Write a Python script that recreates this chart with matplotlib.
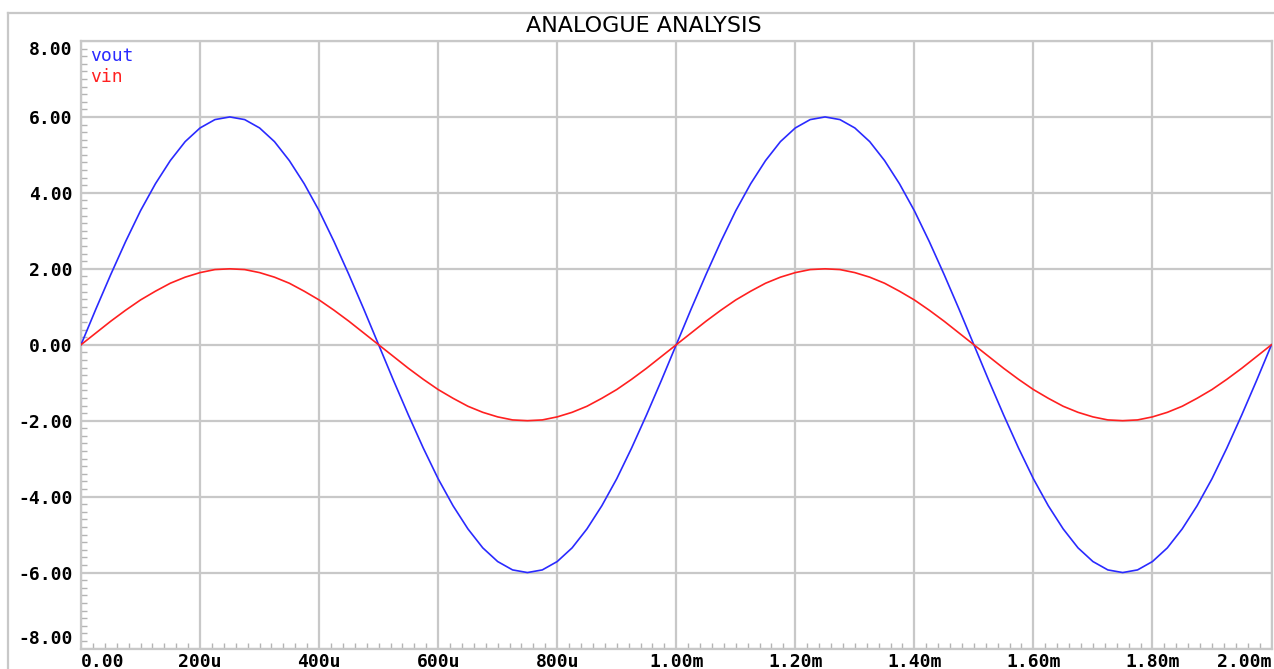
import matplotlib.pyplot as plt
from matplotlib.lines import Line2D
from matplotlib.ticker import AutoMinorLocator

# transient samples, 25u step
t_us = [0, 25, 50, 75, 100, 125, 150, 175, 200, 225,
        250, 275, 300, 325, 350, 375, 400, 425, 450, 475,
        500, 525, 550, 575, 600, 625, 650, 675, 700, 725,
        750, 775, 800, 825, 850, 875, 900, 925, 950, 975,
        1000, 1025, 1050, 1075, 1100, 1125, 1150, 1175, 1200, 1225,
        1250, 1275, 1300, 1325, 1350, 1375, 1400, 1425, 1450, 1475,
        1500, 1525, 1550, 1575, 1600, 1625, 1650, 1675, 1700, 1725,
        1750, 1775, 1800, 1825, 1850, 1875, 1900, 1925, 1950, 1975, 2000]

vout = [0.00, 0.94, 1.85, 2.72, 3.53, 4.24, 4.85, 5.35, 5.71, 5.93,
        6.00, 5.93, 5.71, 5.35, 4.85, 4.24, 3.53, 2.72, 1.85, 0.94,
        0.00, -0.94, -1.85, -2.72, -3.53, -4.24, -4.85, -5.35, -5.71, -5.93,
        -6.00, -5.93, -5.71, -5.35, -4.85, -4.24, -3.53, -2.72, -1.85, -0.94,
        0.00, 0.94, 1.85, 2.72, 3.53, 4.24, 4.85, 5.35, 5.71, 5.93,
        6.00, 5.93, 5.71, 5.35, 4.85, 4.24, 3.53, 2.72, 1.85, 0.94,
        0.00, -0.94, -1.85, -2.72, -3.53, -4.24, -4.85, -5.35, -5.71, -5.93,
        -6.00, -5.93, -5.71, -5.35, -4.85, -4.24, -3.53, -2.72, -1.85, -0.94, 0.00]

vin = [0.00, 0.31, 0.62, 0.91, 1.18, 1.41, 1.62, 1.78, 1.90, 1.98,
       2.00, 1.98, 1.90, 1.78, 1.62, 1.41, 1.18, 0.91, 0.62, 0.31,
       0.00, -0.31, -0.62, -0.91, -1.18, -1.41, -1.62, -1.78, -1.90, -1.98,
       -2.00, -1.98, -1.90, -1.78, -1.62, -1.41, -1.18, -0.91, -0.62, -0.31,
       0.00, 0.31, 0.62, 0.91, 1.18, 1.41, 1.62, 1.78, 1.90, 1.98,
       2.00, 1.98, 1.90, 1.78, 1.62, 1.41, 1.18, 0.91, 0.62, 0.31,
       0.00, -0.31, -0.62, -0.91, -1.18, -1.41, -1.62, -1.78, -1.90, -1.98,
       -2.00, -1.98, -1.90, -1.78, -1.62, -1.41, -1.18, -0.91, -0.62, -0.31, 0.00]

x_ticks = [0, 200, 400, 600, 800, 1000, 1200, 1400, 1600, 1800, 2000]
x_labels = ['0.00', '200u', '400u', '600u', '800u', '1.00m',
            '1.20m', '1.40m', '1.60m', '1.80m', '2.00m']
y_ticks = [-8, -6, -4, -2, 0, 2, 4, 6, 8]
y_labels = ['-8.00', '-6.00', '-4.00', '-2.00', '0.00', '2.00', '4.00', '6.00', '8.00']

GRID = '#c8c8c8'
MONO = 'DejaVu Sans Mono'
BLUE = '#2a2aff'
RED = '#ff2020'

fig = plt.figure(figsize=(12.74, 6.69), dpi=100)
ax = fig.add_axes([81 / 1274, 20.5 / 669, 1190.5 / 1274, 607.5 / 669])

ax.plot(t_us, vout, color=BLUE, lw=1.2, zorder=3)
ax.plot(t_us, vin, color=RED, lw=1.2, zorder=3)

ax.set_xlim(0, 2000)
ax.set_ylim(-8, 8)
ax.set_xticks(x_ticks)
ax.set_yticks(y_ticks)
ax.set_xticklabels(x_labels, fontfamily=MONO, fontweight='bold', fontsize=13)
ax.set_yticklabels(y_labels, fontfamily=MONO, fontweight='bold', fontsize=13)
ax.xaxis.set_minor_locator(AutoMinorLocator(10))
ax.yaxis.set_minor_locator(AutoMinorLocator(10))
ax.tick_params(which='major', length=0)
ax.tick_params(axis='y', which='major', pad=6)
ax.tick_params(axis='x', which='major', pad=3)
ax.tick_params(which='minor', direction='in', length=4, width=1, color='#b4b4b4')

# end labels are kept inside the plot span
xl = ax.get_xticklabels()
xl[0].set_horizontalalignment('left')
xl[-1].set_horizontalalignment('right')
yl = ax.get_yticklabels()
yl[0].set_verticalalignment('bottom')
yl[-1].set_verticalalignment('top')

ax.grid(True, which='major', color=GRID, lw=1.6, zorder=1)
for s in ax.spines.values():
    s.set_color(GRID)
    s.set_linewidth(1.6)

# trace names in the corner
ax.text(0.008, 0.99, 'vout', transform=ax.transAxes, color=BLUE,
        fontfamily=MONO, fontsize=13, va='top', ha='left')
ax.text(0.008, 0.956, 'vin', transform=ax.transAxes, color=RED,
        fontfamily=MONO, fontsize=13, va='top', ha='left')

# outer graph frame
fig.add_artist(Line2D([8 / 1274, 8 / 1274], [0, 1 - 13 / 669],
                      transform=fig.transFigure, color=GRID, lw=1.6))
fig.add_artist(Line2D([8 / 1274, 1], [1 - 13 / 669, 1 - 13 / 669],
                      transform=fig.transFigure, color=GRID, lw=1.6))

fig.text(644 / 1274, 1 - 26 / 669, 'ANALOGUE ANALYSIS', ha='center', va='center',
         fontfamily='DejaVu Sans', fontsize=16)

fig.savefig('out.png', dpi=100)
